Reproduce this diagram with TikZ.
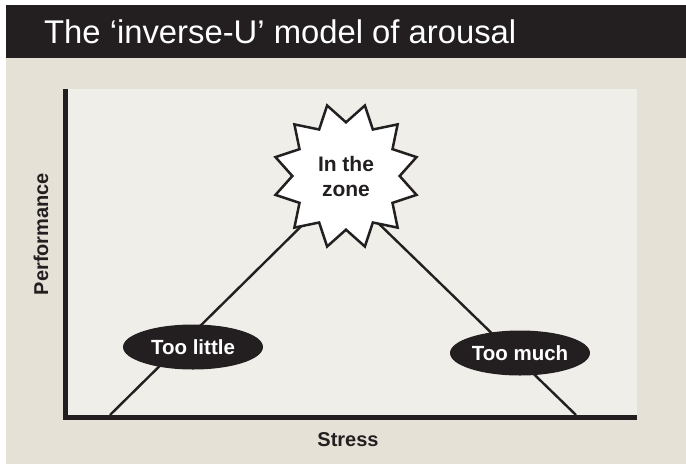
\documentclass[tikz,border=0pt]{standalone}
\usepackage{fontspec}
\setmainfont{Liberation Sans}
\usetikzlibrary{shapes.geometric, positioning}

\definecolor{inkdark}{HTML}{231F20}
\definecolor{panelbeige}{HTML}{E5E1D7}
\definecolor{plotpale}{HTML}{EFEEE9}

\tikzset{
  axisline/.style={line width=5pt, draw=inkdark},
  curveline/.style={line width=2.4pt, draw=inkdark},
  zonelabel/.style={ellipse, fill=inkdark, text=white, minimum width=140pt,
                    minimum height=45pt, inner sep=0pt, font=\fontsize{20.5}{24}\bfseries\selectfont},
  axislabel/.style={text=inkdark, font=\fontsize{20}{24}\bfseries\selectfont},
}

\begin{document}
\begin{tikzpicture}[x=1pt, y=-1pt]
        \useasboundingbox (0,0) rectangle (686,464);
        \fill[white] (0,0) rectangle (686,464);
        \fill[panelbeige] (6,58) rectangle (686,464);
        \fill[inkdark] (6,5) rectangle (686,58);
        \fill[plotpale] (65,89) rectangle (637,416);

        % title
        \node[anchor=base west, inner sep=0pt, text=white,
              font=\fontsize{32.8}{38}\selectfont] (title) at (44,43)
              {The ‘inverse-U’ model of arousal};

        % axes
        \coordinate (top) at (65.5,89);
        \coordinate (origin) at (65.5,417.5);
        \coordinate (right) at (637,417.5);
        \draw[axisline] (top) -- (origin) -- (right);

        % inverse U
        \coordinate (lowleft) at (110,415);
        \coordinate (lowright) at (576,415);
        \coordinate (apex) at (341,187);
        \draw[curveline] (lowleft) -- (apex) -- (lowright);

        \node[star, star points=12, star point ratio=1.36, shape border rotate=15,
              minimum size=146pt, inner sep=0pt, fill=white, draw=inkdark,
              line width=2.5pt, align=center, text=inkdark,
              font=\fontsize{21}{25}\bfseries\selectfont] (zone) at (346,176)
              {In the\\zone};
        \node[zonelabel] (little) at (193,347) {Too little};
        \node[zonelabel] (much) at (520,353) {Too much};

        % axis labels
        \node[axislabel, anchor=base] (stress) at (348,446) {Stress};
        \node[axislabel, anchor=base, rotate=90] (perf) at (48,234) {Performance};
\end{tikzpicture}
\end{document}
